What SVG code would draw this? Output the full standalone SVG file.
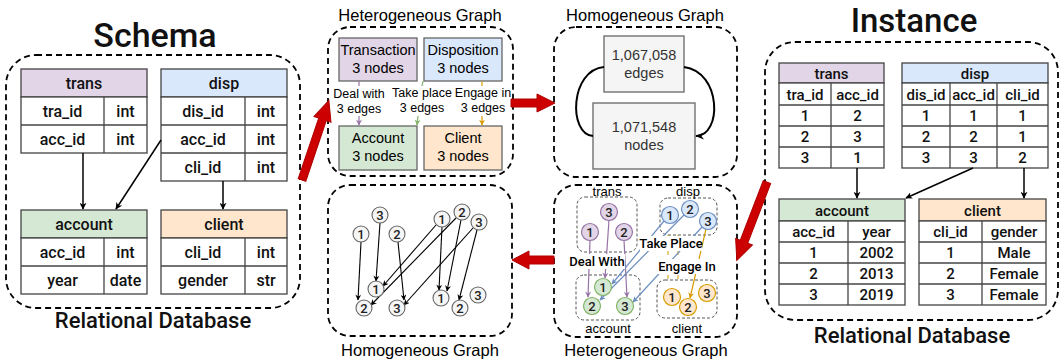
<svg xmlns="http://www.w3.org/2000/svg" width="1060" height="360" viewBox="0 0 1060 360">
<defs>
<style>
.bg{fill:#fff}
.dash{fill:none;stroke:#000;stroke-width:1.8;stroke-dasharray:6 4}
.dot{fill:none;stroke:#555;stroke-width:1;stroke-dasharray:3 2}
.cell{fill:#fff;stroke:#444;stroke-width:1.3}
.hd-tr{fill:#e1d5e7;stroke:#444;stroke-width:1.3}
.hd-di{fill:#dae8fc;stroke:#444;stroke-width:1.3}
.hd-ac{fill:#d5e8d4;stroke:#444;stroke-width:1.3}
.hd-cl{fill:#ffe6cc;stroke:#444;stroke-width:1.3}
.ln{stroke:#444;stroke-width:1.3}
.t{font-family:Roboto,"Liberation Sans",sans-serif;font-weight:500;text-anchor:middle;fill:#111}
.ts{font-size:16px}
.ti{font-size:15px}
.big{font-family:Roboto,"Liberation Sans",sans-serif;font-weight:500;text-anchor:middle;fill:#111}
.a{font-family:"Liberation Sans",Arial,sans-serif;text-anchor:middle;fill:#000}
.lb{font-family:Roboto,"Liberation Sans",sans-serif;font-weight:500;font-size:13px;text-anchor:middle;fill:#000}
.blk{fill:none;stroke:#000;stroke-width:1.5}
.red{fill:#cc0000;stroke:#b00000;stroke-width:1}
.gb{fill:#f5f5f5;stroke:#666;stroke-width:1.3}
.hn{fill:#f5f5f5;stroke:#666;stroke-width:1.1}
.pn{fill:#e1d5e7;stroke:#9673a6;stroke-width:1.2}
.bn{fill:#dae8fc;stroke:#6c8ebf;stroke-width:1.2}
.gn{fill:#d5e8d4;stroke:#82b366;stroke-width:1.2}
.on{fill:#ffe6cc;stroke:#d79b00;stroke-width:1.2}
.num{font-family:Roboto,"Liberation Sans",sans-serif;font-weight:500;font-size:13px;text-anchor:middle;fill:#222}
.he{fill:none;stroke:#000;stroke-width:1.1}
.pe{fill:none;stroke:#9673a6;stroke-width:1.2}
.be{fill:none;stroke:#6c8ebf;stroke-width:1.2}
.oe{fill:none;stroke:#d79b00;stroke-width:1.2}
.ge{fill:none;stroke:#82b366;stroke-width:1.2}
</style>
<marker id="mk" viewBox="0 0 10 10" refX="9" refY="5" markerWidth="7" markerHeight="7" orient="auto" markerUnits="userSpaceOnUse"><path d="M0,0 L10,5 L0,10 L3,5 z" fill="#000"/></marker>
<marker id="mks" viewBox="0 0 10 10" refX="9" refY="5" markerWidth="6" markerHeight="6" orient="auto" markerUnits="userSpaceOnUse"><path d="M0,0 L10,5 L0,10 L3,5 z" fill="#000"/></marker>
<marker id="mkb" viewBox="0 0 10 10" refX="9" refY="5" markerWidth="9" markerHeight="9" orient="auto" markerUnits="userSpaceOnUse"><path d="M0,1 L10,5 L0,9 L3,5 z" fill="#000"/></marker>
<marker id="mp" viewBox="0 0 10 10" refX="9" refY="5" markerWidth="6" markerHeight="6" orient="auto" markerUnits="userSpaceOnUse"><path d="M0,0 L10,5 L0,10 L3,5 z" fill="#9673a6"/></marker>
<marker id="mbl" viewBox="0 0 10 10" refX="9" refY="5" markerWidth="6" markerHeight="6" orient="auto" markerUnits="userSpaceOnUse"><path d="M0,0 L10,5 L0,10 L3,5 z" fill="#6c8ebf"/></marker>
<marker id="mo" viewBox="0 0 10 10" refX="9" refY="5" markerWidth="6" markerHeight="6" orient="auto" markerUnits="userSpaceOnUse"><path d="M0,0 L10,5 L0,10 L3,5 z" fill="#d79b00"/></marker>
<marker id="mg" viewBox="0 0 10 10" refX="9" refY="5" markerWidth="6" markerHeight="6" orient="auto" markerUnits="userSpaceOnUse"><path d="M0,0 L10,5 L0,10 L3,5 z" fill="#82b366"/></marker>
</defs>
<rect class="bg" x="0" y="0" width="1060" height="360"/>

<!-- ===== Schema ===== -->
<g id="schema">
<text class="big" x="155" y="47" font-size="34">Schema</text>
<rect class="dash" x="6" y="55" width="294" height="253" rx="30"/>
<text class="big" x="153" y="328" font-size="22">Relational Database</text>
</g>
<g id="schema-trans">
<rect class="hd-tr" x="21" y="69" width="126" height="28"/>
<rect class="cell" x="21" y="97" width="126" height="56"/>
<line class="ln" x1="21" y1="125" x2="147" y2="125"/>
<line class="ln" x1="104" y1="97" x2="104" y2="153"/>
<text class="t ts" x="84" y="89">trans</text>
<text class="t ts" x="62.5" y="117">tra_id</text><text class="t ts" x="125.5" y="117">int</text>
<text class="t ts" x="62.5" y="145">acc_id</text><text class="t ts" x="125.5" y="145">int</text>
</g>
<g id="schema-disp">
<rect class="hd-di" x="161" y="69" width="126" height="28"/>
<rect class="cell" x="161" y="97" width="126" height="84"/>
<line class="ln" x1="161" y1="125" x2="287" y2="125"/>
<line class="ln" x1="161" y1="153" x2="287" y2="153"/>
<line class="ln" x1="245" y1="97" x2="245" y2="181"/>
<text class="t ts" x="224" y="89">disp</text>
<text class="t ts" x="203" y="117">dis_id</text><text class="t ts" x="266" y="117">int</text>
<text class="t ts" x="203" y="145">acc_id</text><text class="t ts" x="266" y="145">int</text>
<text class="t ts" x="203" y="173">cli_id</text><text class="t ts" x="266" y="173">int</text>
</g>
<g id="schema-account">
<rect class="hd-ac" x="21" y="210" width="126" height="28"/>
<rect class="cell" x="21" y="238" width="126" height="56"/>
<line class="ln" x1="21" y1="266" x2="147" y2="266"/>
<line class="ln" x1="104" y1="238" x2="104" y2="294"/>
<text class="t ts" x="84" y="230">account</text>
<text class="t ts" x="62.5" y="258">acc_id</text><text class="t ts" x="125.5" y="258">int</text>
<text class="t ts" x="62.5" y="286">year</text><text class="t ts" x="125.5" y="286">date</text>
</g>
<g id="schema-client">
<rect class="hd-cl" x="161" y="210" width="126" height="28"/>
<rect class="cell" x="161" y="238" width="126" height="56"/>
<line class="ln" x1="161" y1="266" x2="287" y2="266"/>
<line class="ln" x1="245" y1="238" x2="245" y2="294"/>
<text class="t ts" x="224" y="230">client</text>
<text class="t ts" x="203" y="258">cli_id</text><text class="t ts" x="266" y="258">int</text>
<text class="t ts" x="203" y="286">gender</text><text class="t ts" x="266" y="286">str</text>
</g>

<!-- ===== Instance ===== -->
<g id="instance">
<text class="big" x="914" y="32" font-size="33">Instance</text>
<rect class="dash" x="765" y="42" width="293" height="278" rx="30"/>
<text class="big" x="912" y="343" font-size="22">Relational Database</text>
</g>
<g id="inst-trans">
<rect class="hd-tr" x="779" y="63" width="105" height="20"/>
<rect class="cell" x="779" y="83" width="105" height="85"/>
<line class="ln" x1="779" y1="105" x2="884" y2="105"/>
<line class="ln" x1="779" y1="126" x2="884" y2="126"/>
<line class="ln" x1="779" y1="147" x2="884" y2="147"/>
<line class="ln" x1="831" y1="83" x2="831" y2="168"/>
<text class="t ti" x="831.5" y="79">trans</text>
<text class="t ti" x="805" y="100">tra_id</text><text class="t ti" x="857.5" y="100">acc_id</text>
<text class="t ti" x="805" y="121">1</text><text class="t ti" x="857.5" y="121">2</text>
<text class="t ti" x="805" y="142">2</text><text class="t ti" x="857.5" y="142">3</text>
<text class="t ti" x="805" y="163">3</text><text class="t ti" x="857.5" y="163">1</text>
</g>
<g id="inst-disp">
<rect class="hd-di" x="902" y="63" width="146" height="20"/>
<rect class="cell" x="902" y="83" width="146" height="85"/>
<line class="ln" x1="902" y1="105" x2="1048" y2="105"/>
<line class="ln" x1="902" y1="126" x2="1048" y2="126"/>
<line class="ln" x1="902" y1="147" x2="1048" y2="147"/>
<line class="ln" x1="950" y1="83" x2="950" y2="168"/>
<line class="ln" x1="997" y1="83" x2="997" y2="168"/>
<text class="t ti" x="975" y="79">disp</text>
<text class="t ti" x="926" y="100">dis_id</text><text class="t ti" x="973.5" y="100">acc_id</text><text class="t ti" x="1022.5" y="100">cli_id</text>
<text class="t ti" x="926" y="121">1</text><text class="t ti" x="973.5" y="121">1</text><text class="t ti" x="1022.5" y="121">1</text>
<text class="t ti" x="926" y="142">2</text><text class="t ti" x="973.5" y="142">2</text><text class="t ti" x="1022.5" y="142">1</text>
<text class="t ti" x="926" y="163">3</text><text class="t ti" x="973.5" y="163">3</text><text class="t ti" x="1022.5" y="163">2</text>
</g>
<g id="inst-account">
<rect class="hd-ac" x="779" y="199" width="126" height="22"/>
<rect class="cell" x="779" y="221" width="126" height="84"/>
<line class="ln" x1="779" y1="242" x2="905" y2="242"/>
<line class="ln" x1="779" y1="263" x2="905" y2="263"/>
<line class="ln" x1="779" y1="284" x2="905" y2="284"/>
<line class="ln" x1="848" y1="221" x2="848" y2="305"/>
<text class="t ti" x="842" y="216">account</text>
<text class="t ti" x="813.5" y="237">acc_id</text><text class="t ti" x="876.5" y="237">year</text>
<text class="t ti" x="813.5" y="258">1</text><text class="t ti" x="876.5" y="258">2002</text>
<text class="t ti" x="813.5" y="279">2</text><text class="t ti" x="876.5" y="279">2013</text>
<text class="t ti" x="813.5" y="300">3</text><text class="t ti" x="876.5" y="300">2019</text>
</g>
<g id="inst-client">
<rect class="hd-cl" x="919" y="199" width="127" height="22"/>
<rect class="cell" x="919" y="221" width="127" height="84"/>
<line class="ln" x1="919" y1="242" x2="1046" y2="242"/>
<line class="ln" x1="919" y1="263" x2="1046" y2="263"/>
<line class="ln" x1="919" y1="284" x2="1046" y2="284"/>
<line class="ln" x1="982" y1="221" x2="982" y2="305"/>
<text class="t ti" x="982.5" y="216">client</text>
<text class="t ti" x="950.5" y="237">cli_id</text><text class="t ti" x="1014" y="237">gender</text>
<text class="t ti" x="950.5" y="258">1</text><text class="t ti" x="1014" y="258">Male</text>
<text class="t ti" x="950.5" y="279">2</text><text class="t ti" x="1014" y="279">Female</text>
<text class="t ti" x="950.5" y="300">3</text><text class="t ti" x="1014" y="300">Female</text>
</g>

<!-- ===== Heterogeneous graph (top) ===== -->
<g id="hetero-top">
<text class="a" x="420" y="21" font-size="16.5">Heterogeneous Graph</text>
<rect class="dash" x="328" y="27" width="185" height="149" rx="22"/>
</g>
<g id="ht-transaction">
<rect x="339" y="38" width="78" height="43" fill="#e1d5e7" stroke="#666" stroke-width="1.3"/>
<text class="a" x="378" y="55" font-size="14.5">Transaction</text>
<text class="a" x="378" y="73" font-size="14.5">3 nodes</text>
</g>
<g id="ht-disposition">
<rect x="424" y="38" width="78" height="43" fill="#dae8fc" stroke="#666" stroke-width="1.3"/>
<text class="a" x="463" y="55" font-size="14.5">Disposition</text>
<text class="a" x="463" y="73" font-size="14.5">3 nodes</text>
</g>
<g id="ht-account">
<rect x="339" y="126" width="78" height="44" fill="#d5e8d4" stroke="#666" stroke-width="1.3"/>
<text class="a" x="378" y="143" font-size="14.5">Account</text>
<text class="a" x="378" y="161" font-size="14.5">3 nodes</text>
</g>
<g id="ht-client">
<rect x="424" y="126" width="78" height="44" fill="#ffe6cc" stroke="#666" stroke-width="1.3"/>
<text class="a" x="463" y="143" font-size="14.5">Client</text>
<text class="a" x="463" y="161" font-size="14.5">3 nodes</text>
</g>

<!-- ===== Homogeneous graph (top) ===== -->
<g id="homo-top">
<text class="a" x="645" y="21" font-size="16.5">Homogeneous Graph</text>
<rect class="dash" x="554" y="27" width="183" height="150" rx="22"/>
</g>
<g id="homo-edges">
<rect class="gb" x="604" y="36" width="80" height="56"/>
<text class="a" x="644" y="60" font-size="14.5" style="fill:#333">1,067,058</text>
<text class="a" x="644" y="78" font-size="14.5" style="fill:#333">edges</text>
</g>
<g id="homo-nodes">
<rect class="gb" x="593" y="103" width="102" height="66"/>
<text class="a" x="644" y="132" font-size="14.5" style="fill:#333">1,071,548</text>
<text class="a" x="644" y="150" font-size="14.5" style="fill:#333">nodes</text>
</g>

<!-- ===== Heterogeneous graph (bottom) ===== -->
<g id="hetero-bottom">
<rect class="dash" x="554" y="185" width="183" height="152" rx="22"/>
<text class="a" x="646" y="356" font-size="16.5">Heterogeneous Graph</text>
<rect class="dot" x="577" y="197" width="60" height="55" rx="8"/>
<rect class="dot" x="660" y="198" width="57" height="37" rx="8"/>
<rect class="dot" x="576" y="275" width="64" height="45" rx="8"/>
<rect class="dot" x="657" y="280" width="60" height="38" rx="8"/>
<text class="a" x="607" y="196" font-size="13">trans</text>
<text class="a" x="688" y="196" font-size="13">disp</text>
<text class="a" x="608" y="333" font-size="13">account</text>
<text class="a" x="687" y="333" font-size="13">client</text>
</g>

<!-- ===== Homogeneous graph (bottom) ===== -->
<g id="homo-bottom">
<rect class="dash" x="328" y="185" width="184" height="151" rx="22"/>
<text class="a" x="420" y="356" font-size="16.5">Homogeneous Graph</text>
</g>

<!-- ===== Connectors ===== -->
<g id="connectors">
<!-- schema -->
<line class="blk" x1="83" y1="153" x2="83" y2="209" marker-end="url(#mk)"/>
<line class="blk" x1="161" y1="140" x2="116" y2="209" marker-end="url(#mk)"/>
<line class="blk" x1="223" y1="181" x2="223" y2="209" marker-end="url(#mk)"/>
<!-- instance -->
<line class="blk" x1="857" y1="168" x2="857" y2="198" marker-end="url(#mk)"/>
<line class="blk" x1="973" y1="168" x2="906" y2="198" marker-end="url(#mk)"/>
<line class="blk" x1="1024" y1="168" x2="1024" y2="198" marker-end="url(#mk)"/>
<!-- hetero top -->
<line class="pe" x1="359" y1="81" x2="359" y2="86"/>
<line class="pe" x1="359" y1="116" x2="359" y2="125" marker-end="url(#mp)"/>
<line class="ge" x1="423" y1="81" x2="422" y2="86"/>
<line class="ge" x1="418" y1="116" x2="417" y2="125" marker-end="url(#mg)"/>
<line class="oe" x1="482" y1="81" x2="482" y2="86"/>
<line class="oe" x1="482" y1="116" x2="482" y2="125" marker-end="url(#mo)"/>
<text class="a" x="359" y="98" font-size="12.5">Deal with</text>
<text class="a" x="359" y="113" font-size="12.5">3 edges</text>
<text class="a" x="422" y="97" font-size="12.5">Take place</text>
<text class="a" x="422" y="112" font-size="12.5">3 edges</text>
<text class="a" x="483" y="97" font-size="12.5">Engage in</text>
<text class="a" x="483" y="112" font-size="12.5">3 edges</text>
<!-- homo top curves -->
<path d="M604,67 C570,70 568,134 593,136" fill="none" stroke="#000" stroke-width="2"/>
<path d="M684,67 C722,72 722,136 696,136" fill="none" stroke="#000" stroke-width="2" marker-end="url(#mkb)"/>
<!-- homo bottom edges -->
<line class="he" x1="361" y1="242" x2="358" y2="300" marker-end="url(#mks)"/>
<line class="he" x1="380" y1="223" x2="376" y2="281" marker-end="url(#mks)"/>
<line class="he" x1="398" y1="242" x2="404" y2="300" marker-end="url(#mks)"/>
<line class="he" x1="436" y1="225" x2="383" y2="286" marker-end="url(#mks)"/>
<line class="he" x1="456" y1="218" x2="371" y2="305" marker-end="url(#mks)"/>
<line class="he" x1="473" y1="228" x2="404" y2="305" marker-end="url(#mks)"/>
<line class="he" x1="442" y1="227" x2="439" y2="290" marker-end="url(#mks)"/>
<line class="he" x1="461" y1="220" x2="447" y2="291" marker-end="url(#mks)"/>
<line class="he" x1="477" y1="230" x2="459" y2="300" marker-end="url(#mks)"/>
<!-- hetero bottom edges -->
<line x1="668" y1="235" x2="668" y2="280" stroke="#d79b00" stroke-width="1" stroke-dasharray="4 4"/>
<line x1="678" y1="235" x2="678" y2="280" stroke="#d79b00" stroke-width="1" stroke-dasharray="4 4"/>
<line class="pe" x1="590" y1="240" x2="588" y2="297" marker-end="url(#mp)"/>
<line class="pe" x1="609" y1="220" x2="605" y2="278" marker-end="url(#mp)"/>
<line class="pe" x1="624" y1="240" x2="627" y2="297" marker-end="url(#mp)"/>
<line class="be" x1="664" y1="221" x2="612" y2="284" marker-end="url(#mbl)"/>
<line class="be" x1="684" y1="215" x2="600" y2="300" marker-end="url(#mbl)"/>
<line class="be" x1="702" y1="227" x2="633" y2="302" marker-end="url(#mbl)"/>
<line class="oe" x1="706" y1="229" x2="690" y2="298" marker-end="url(#mo)"/>
<rect x="640" y="236" width="62" height="15" fill="#fff"/>
<text class="lb" x="671" y="248">Take Place</text>
<rect x="569" y="254" width="56" height="15" fill="#fff"/>
<text class="lb" x="597" y="266">Deal With</text>
<rect x="656" y="259" width="62" height="15" fill="#fff"/>
<text class="lb" x="687" y="271">Engage In</text>
<!-- red flow arrows -->
<polygon class="red" points="0,-4 64,-4 64,-9 84,0 64,9 64,4 0,4" transform="translate(302,180) rotate(-71.35)"/>
<polygon class="red" points="0,-4 26,-4 26,-9 44,0 26,9 26,4 0,4" transform="translate(511,103)"/>
<polygon class="red" points="0,-4 64,-4 64,-9 84,0 64,9 64,4 0,4" transform="translate(767,182) rotate(111.04)"/>
<polygon class="red" points="0,-4 25,-4 25,-9 42,0 25,9 25,4 0,4" transform="translate(554,260) rotate(180)"/>
</g>

<!-- homo bottom nodes -->
<g id="hb-nodes">
<circle class="hn" cx="380" cy="215" r="8"/><text class="num" x="380" y="219.5">3</text>
<circle class="hn" cx="361" cy="234" r="8"/><text class="num" x="361" y="238.5">1</text>
<circle class="hn" cx="397" cy="234" r="8"/><text class="num" x="397" y="238.5">2</text>
<circle class="hn" cx="442" cy="219" r="8"/><text class="num" x="442" y="223.5">1</text>
<circle class="hn" cx="462" cy="212" r="8"/><text class="num" x="462" y="216.5">2</text>
<circle class="hn" cx="479" cy="222" r="8"/><text class="num" x="479" y="226.5">3</text>
<circle class="hn" cx="376" cy="289" r="8"/><text class="num" x="376" y="293.5">1</text>
<circle class="hn" cx="364" cy="308" r="8"/><text class="num" x="364" y="312.5">2</text>
<circle class="hn" cx="397" cy="308" r="8"/><text class="num" x="397" y="312.5">3</text>
<circle class="hn" cx="441" cy="298" r="8"/><text class="num" x="441" y="302.5">1</text>
<circle class="hn" cx="460" cy="308" r="8"/><text class="num" x="460" y="312.5">2</text>
<circle class="hn" cx="478" cy="295" r="8"/><text class="num" x="478" y="299.5">3</text>
</g>
<!-- hetero bottom nodes -->
<g id="hetb-trans-nodes">
<circle class="pn" cx="609" cy="212" r="8.5"/><text class="num" x="609" y="216.5">3</text>
<circle class="pn" cx="590" cy="232" r="8.5"/><text class="num" x="590" y="236.5">1</text>
<circle class="pn" cx="624" cy="232" r="8.5"/><text class="num" x="624" y="236.5">2</text>
</g>
<g id="hetb-disp-nodes">
<circle class="bn" cx="670" cy="215" r="8.5"/><text class="num" x="670" y="219.5">1</text>
<circle class="bn" cx="690" cy="209" r="8.5"/><text class="num" x="690" y="213.5">2</text>
<circle class="bn" cx="708" cy="221" r="8.5"/><text class="num" x="708" y="225.5">3</text>
</g>
<g id="hetb-account-nodes">
<circle class="gn" cx="603" cy="287" r="8.5"/><text class="num" x="603" y="291.5">1</text>
<circle class="gn" cx="592" cy="306" r="8.5"/><text class="num" x="592" y="310.5">2</text>
<circle class="gn" cx="625" cy="306" r="8.5"/><text class="num" x="625" y="310.5">3</text>
</g>
<g id="hetb-client-nodes">
<circle class="on" cx="672" cy="297" r="8.5"/><text class="num" x="672" y="301.5">1</text>
<circle class="on" cx="688" cy="307" r="8.5"/><text class="num" x="688" y="311.5">2</text>
<circle class="on" cx="707" cy="293" r="8.5"/><text class="num" x="707" y="297.5">3</text>
</g>
</svg>
